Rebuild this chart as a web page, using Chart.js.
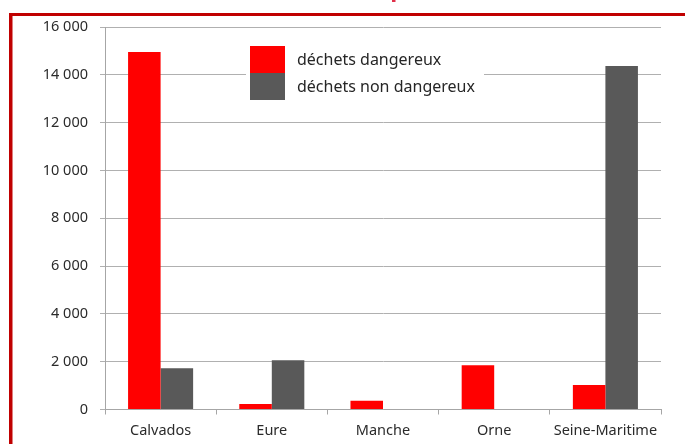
<!DOCTYPE html>
<html>
<head>
<meta charset="utf-8">
<script src="https://cdn.jsdelivr.net/npm/chart.js@4/dist/chart.umd.min.js"></script>
<style>
  html, body { margin: 0; padding: 0; background: #fff; }
  #wrap { position: relative; width: 685px; height: 444px; }
</style>
</head>
<body>
<div id="wrap"><canvas id="chart" width="685" height="444"></canvas></div>
<script>
const categories = ['Calvados', 'Eure', 'Manche', 'Orne', 'Seine-Maritime'];
const dangereux = [14950, 230, 370, 1850, 1020];
const nonDangereux = [1730, 2060, 0, 0, 14370];
const yTicks = [0, 2000, 4000, 6000, 8000, 10000, 12000, 14000, 16000];

const FONT = '"Noto Sans", "Open Sans", sans-serif';

function formatThousands(v) {
  return String(v).replace(/\B(?=(\d{3})+(?!\d))/g, ' ');
}

// cadre rouge (bord gauche + haut) et bout du titre coupé
const framePlugin = {
  id: 'frame',
  afterDraw(chart) {
    const ctx = chart.ctx;
    ctx.save();
    ctx.fillStyle = '#c00000';
    ctx.fillRect(9, 13, 3.5, 444 - 13);
    ctx.fillRect(9, 13, 685 - 9, 3);
    ctx.fillStyle = '#e0304a';
    ctx.fillRect(392, 0, 3.5, 2);
    ctx.restore();
  }
};

// légende à la Excel : carrés empilés, fond blanc sur la grille
const legendPlugin = {
  id: 'excelLegend',
  afterDatasetsDraw(chart) {
    const ctx = chart.ctx;
    const x = 246, y = 46, boxW = 35, boxH = 27;
    ctx.save();
    ctx.fillStyle = '#fff';
    ctx.fillRect(x, y - 4, 238, boxH * 2 + 8);
    chart.data.datasets.forEach((ds, i) => {
      ctx.fillStyle = ds.backgroundColor;
      ctx.fillRect(x + 4, y + i * boxH, boxW, boxH);
      ctx.fillStyle = '#262626';
      ctx.font = '16px ' + FONT;
      ctx.textBaseline = 'middle';
      ctx.fillText(ds.label, x + 51, y + i * boxH + boxH / 2 + 1);
    });
    ctx.restore();
  }
};

new Chart(document.getElementById('chart'), {
  type: 'bar',
  data: {
    labels: categories,
    datasets: [
      {
        label: 'déchets dangereux',
        data: dangereux,
        backgroundColor: '#ff0000',
        borderWidth: 0
      },
      {
        label: 'déchets non dangereux',
        data: nonDangereux,
        backgroundColor: '#595959',
        borderWidth: 0
      }
    ]
  },
  options: {
    responsive: false,
    animation: false,
    layout: { padding: { left: 0, right: 24, top: 27, bottom: 0 } },
    datasets: {
      bar: { categoryPercentage: 0.585, barPercentage: 1.0 }
    },
    plugins: {
      legend: { display: false },
      tooltip: { enabled: false }
    },
    scales: {
      x: {
        afterFit(scale) { scale.height = 34.5; },
        grid: {
          offset: true,
          drawOnChartArea: false,
          drawTicks: true,
          tickLength: 5,
          color: '#a6a6a6'
        },
        border: { color: '#a6a6a6', width: 1 },
        ticks: {
          color: '#2b2b2b',
          font: { family: FONT, size: 14.5 },
          padding: 8,
          maxRotation: 0
        }
      },
      y: {
        min: 0,
        max: 16000,
        afterFit(scale) { scale.width = 105; },
        afterBuildTicks(scale) {
          scale.ticks = yTicks.map(v => ({ value: v }));
        },
        grid: {
          color: '#b0b0b0',
          drawTicks: true,
          tickLength: 5
        },
        border: { color: '#a6a6a6', width: 1 },
        ticks: {
          color: '#2b2b2b',
          font: { family: FONT, size: 14.5 },
          padding: 12,
          callback: v => formatThousands(v)
        }
      }
    }
  },
  plugins: [framePlugin, legendPlugin]
});
</script>
</body>
</html>
